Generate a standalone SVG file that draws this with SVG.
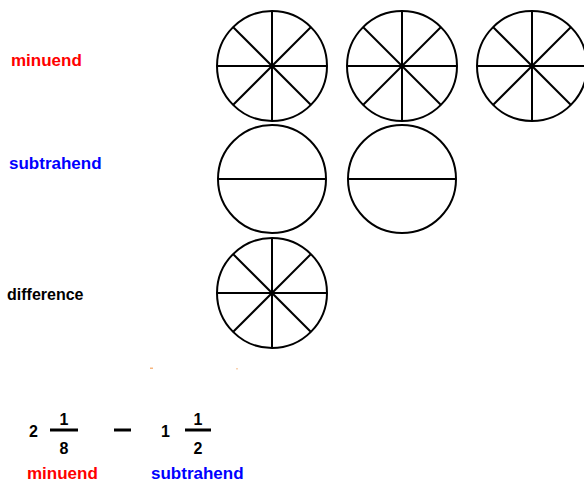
<svg xmlns="http://www.w3.org/2000/svg" width="584" height="485" viewBox="0 0 584 485">
<defs>
<style>
.c{fill:none;stroke:#000;stroke-width:2}
.s{stroke:#000;stroke-width:2}
.t{font-family:"Liberation Sans",Arial,sans-serif;font-weight:bold;font-size:17px}
.r{fill:#ff0000}
.b{fill:#0000ff}
.k{fill:#000}
.n{font-family:"Liberation Sans",Arial,sans-serif;font-weight:bold;font-size:16px;fill:#000}
.fl{stroke:#000;stroke-width:3}
</style>
<g id="eighth">
<circle class="c" cx="0" cy="0" r="55"/>
<line class="s" x1="-55" y1="0" x2="55" y2="0"/>
<line class="s" x1="0" y1="-55" x2="0" y2="55"/>
<line class="s" x1="-39" y1="-39" x2="39" y2="39"/>
<line class="s" x1="-39" y1="39" x2="39" y2="-39"/>
</g>
<g id="half">
<circle class="c" cx="0" cy="0" r="54"/>
<line class="s" x1="-54" y1="0" x2="54" y2="0"/>
</g>
</defs>
<rect width="584" height="485" fill="#fff"/>
<g id="labels">
<text class="t r" x="11" y="66">minuend</text>
<text class="t b" x="9" y="169">subtrahend</text>
<text class="t k" x="7" y="300" style="font-size:16px">difference</text>
</g>
<g id="minuend-circles">
<use href="#eighth" x="272" y="66"/>
<use href="#eighth" x="402" y="66"/>
<use href="#eighth" x="532" y="66"/>
</g>
<g id="subtrahend-circles">
<use href="#half" x="272" y="179"/>
<use href="#half" x="402" y="179"/>
</g>
<g id="difference-circles">
<use href="#eighth" x="272" y="293"/>
</g>
<g id="marks">
<rect x="150" y="367.5" width="3" height="1.5" fill="#f4a460" opacity="0.8"/>
<rect x="236" y="368" width="2" height="1.5" fill="#f4a460" opacity="0.5"/>
</g>
<g id="expression">
<text class="n" x="29" y="437">2</text>
<text class="n" x="64" y="425" text-anchor="middle">1</text>
<line class="fl" x1="50" y1="430" x2="78" y2="430"/>
<text class="n" x="64" y="454" text-anchor="middle">8</text>
<line class="fl" x1="114" y1="430" x2="131" y2="430"/>
<text class="n" x="161" y="437">1</text>
<text class="n" x="198" y="425" text-anchor="middle">1</text>
<line class="fl" x1="185" y1="430" x2="211" y2="430"/>
<text class="n" x="198" y="454" text-anchor="middle">2</text>
<text class="t r" x="27" y="479">minuend</text>
<text class="t b" x="151" y="479">subtrahend</text>
</g>
</svg>
